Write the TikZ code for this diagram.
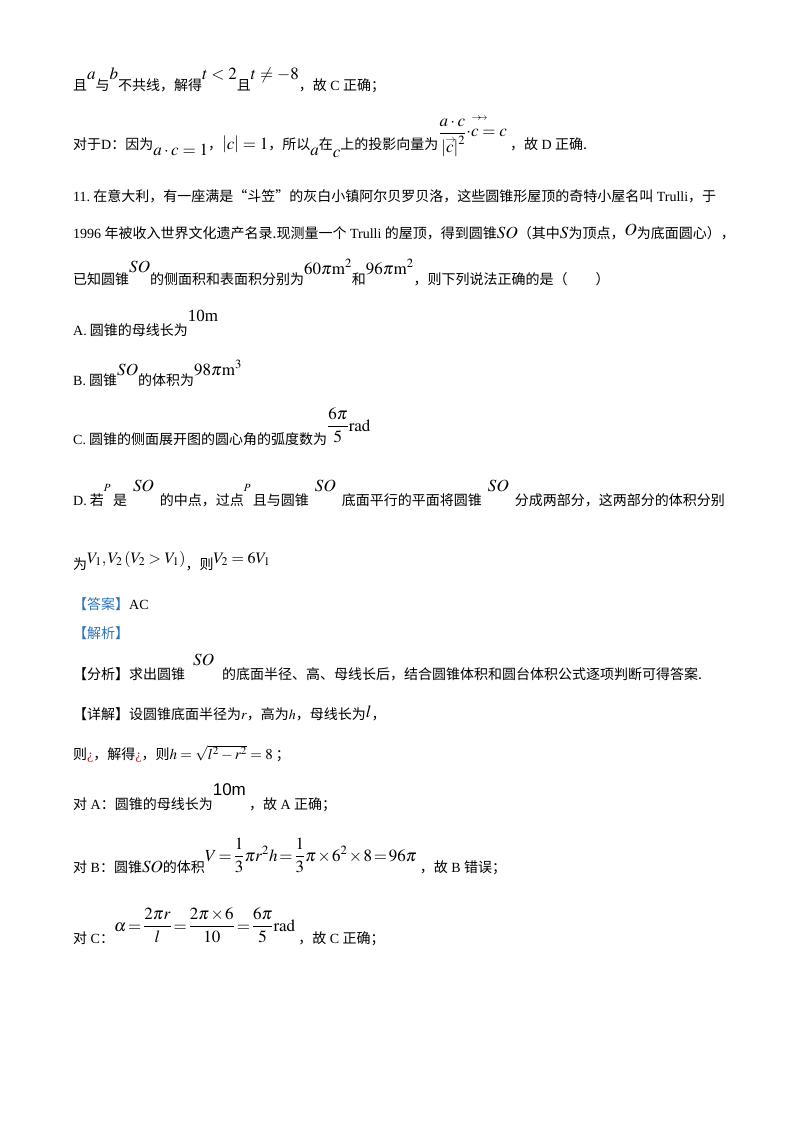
\documentclass[tikz,border=0pt]{standalone}
\usepackage{amsmath}
\usepackage{mathptmx}
\usepackage{fontspec}
\setmainfont{Noto Sans CJK SC}
\newfontfamily\tnr{Liberation Serif}
\newfontfamily\arl{Liberation Sans}
\definecolor{jxblue}{RGB}{46,117,182}
\definecolor{jxred}{RGB}{192,32,32}
\newcommand\upm[2][10pt]{\raisebox{#1}{\fontsize{17}{20}\selectfont #2}}
\newcommand\dnm[2][-6pt]{\raisebox{#1}{\fontsize{17}{20}\selectfont #2}}
\newcommand\lgm[1]{{\fontsize{17}{20}\selectfont #1}}
\newcommand\tightm{\thickmuskip=2mu\medmuskip=1.5mu}
\newcommand\bq[1]{\textcolor{jxblue}{【#1】}}
\newcommand\tinyarr[2]{\rlap{\hspace{#1}\raisebox{#2}{$\scriptscriptstyle\to$}}}

\begin{document}
\begin{tikzpicture}[x=1pt,y=-1pt,
    txt/.style={anchor=base west,inner sep=0pt,font=\fontsize{14}{16}\selectfont}]
    \fill[white] (0,0) rectangle (800,1132);
    % end of item 10
    \node[txt] (l1) at (73,90) {且\upm{$a$}与\upm{$b$}不共线，解得\upm{$t<2$}且\upm{$t\neq -8$}，故{\tnr\ C\ }正确；};
    \node[txt] (l2) at (73,149) {对于{\tnr D}：因为\dnm{$a\cdot c=1$}，\lgm{$\left|c\right|=1$}，所以\dnm{$a$}在\dnm[-8pt]{$c$}上的投影向量为\upm[11pt]{$\dfrac{a\cdot c}{\tinyarr{6pt}{10pt}\left|c\right|^{2}}$}\upm[13pt]{\tinyarr{5pt}{16pt}\tinyarr{11pt}{16pt}$\cdot c=c$}\ ，故{\tnr\ D\ }正确.};
    % item 11
    \node[txt] (q1) at (73,201) {{\tnr 11.}\ 在意大利，有一座满是“斗笠”的灰白小镇阿尔贝罗贝洛，这些圆锥形屋顶的奇特小屋名叫{\tnr\ Trulli}，于};
    \node[txt] (q2) at (73,238) {{\tnr 1996\ }年被收入世界文化遗产名录.现测量一个{\tnr\ Trulli\ }的屋顶，得到圆锥\lgm{$SO$}（其中\lgm{$S$}为顶点，\upm[3pt]{$O$}为底面圆心），};
    \node[txt] (q3) at (73,284) {已知圆锥\upm[12pt]{$SO$}的侧面积和表面积分别为\upm{$60\pi\mathrm{m}^{2}$}和\upm{$96\pi\mathrm{m}^{2}$}，则下列说法正确的是（\qquad）};
    \node[txt] (oa) at (73,335) {{\tnr A.}\ 圆锥的母线长为\upm[14pt]{\tnr 10m}};
    \node[txt] (ob) at (73,385) {{\tnr B.}\ 圆锥\upm{$SO$}的体积为\upm{$98\pi\mathrm{m}^{3}$}};
    \node[txt] (oc) at (73,444) {{\tnr C.}\ 圆锥的侧面展开图的圆心角的弧度数为\upm[13pt]{$\dfrac{6\pi}{5}\mathrm{rad}$}};
    \node[txt] (od) at (73,505) {{\tnr D.}\ 若\upm[14pt]{\fontsize{11}{12}\selectfont$P$}\,是\hspace{6pt}\upm[14pt]{$SO$}\hspace{6pt}的中点，过点\upm[14pt]{\fontsize{11}{12}\selectfont$P$}\,且与圆锥\hspace{6pt}\upm[14pt]{$SO$}\hspace{6pt}底面平行的平面将圆锥\hspace{6pt}\upm[14pt]{$SO$}\hspace{6pt}分成两部分，这两部分的体积分别};
    \node[txt] (od2) at (73,569) {为\upm[6pt]{\fontsize{16}{18}\selectfont$V_1,V_2\left(V_2>V_1\right)$}，则\upm[6pt]{\fontsize{16}{18}\selectfont$V_2=6V_1$}};
    % answer
    \node[txt] (ans) at (73,609) {\bq{答案}{\tnr AC}};
    \node[txt] (jx) at (73,638) {\bq{解析}};
    \node[txt] (fx) at (73,679) {【分析】求出圆锥\hspace{8pt}\upm[14pt]{$SO$}\hspace{8pt}的底面半径、高、母线长后，结合圆锥体积和圆台体积公式逐项判断可得答案.};
    \node[txt] (xj) at (73,719) {【详解】设圆锥底面半径为$r$，高为$h$，母线长为\upm[2pt]{$l$}，};
    \node[txt] (s1) at (73,759) {则\textcolor{jxred}{\tnr ¿}，解得\textcolor{jxred}{\tnr ¿}，则{\fontsize{15}{18}\selectfont$h=\sqrt{l^{2}-r^{2}}=8$}\ ；};
    \node[txt] (sa) at (73,809) {对{\tnr\ A}：圆锥的母线长为\upm[14pt]{\arl 10m}\ ，故{\tnr\ A\ }正确；};
    \node[txt] (sb) at (73,872) {对{\tnr\ B}：圆锥\lgm{$SO$}的体积\upm[11pt]{\tightm$V=\dfrac{1}{3}\pi r^{2}h=\dfrac{1}{3}\pi\times 6^{2}\times 8=96\pi$}\ ，故{\tnr\ B\ }错误；};
    \node[txt] (sc) at (73,943) {对{\tnr\ C}：\upm[12pt]{\tightm$\alpha=\dfrac{2\pi r}{l}=\dfrac{2\pi\times 6}{10}=\dfrac{6\pi}{5}\mathrm{rad}$}\ ，故{\tnr\ C\ }正确；};
\end{tikzpicture}
\end{document}
